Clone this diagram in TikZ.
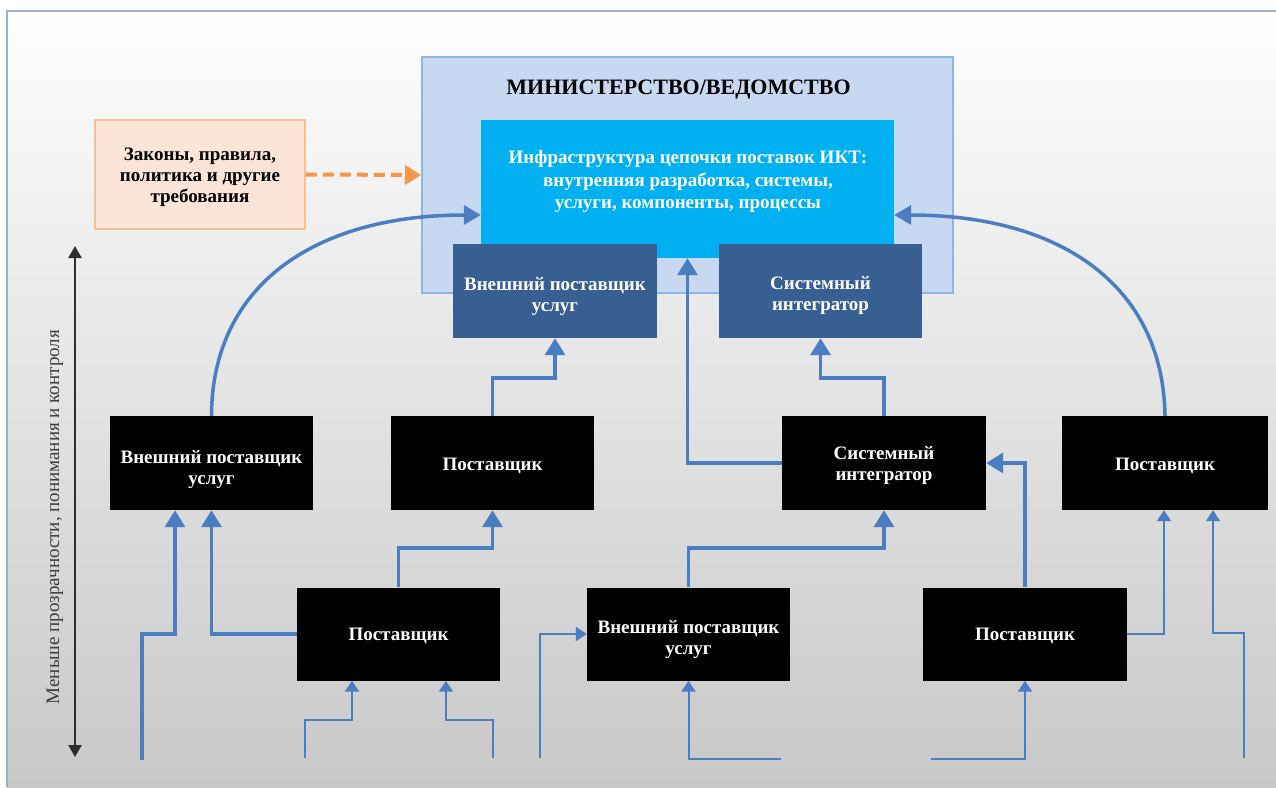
\documentclass[tikz,border=0pt]{standalone}
\usepackage{fontspec}
\setmainfont{Liberation Serif}
\usetikzlibrary{arrows.meta,calc}

\definecolor{framecol}{RGB}{154,176,204}
\definecolor{bgtop}{RGB}{254,254,254}
\definecolor{bgbot}{RGB}{200,200,200}
\definecolor{ministryfill}{RGB}{198,217,240}
\definecolor{ministrydraw}{RGB}{142,180,227}
\definecolor{lawfill}{RGB}{252,228,214}
\definecolor{lawdraw}{RGB}{249,190,143}
\definecolor{lawarrow}{RGB}{247,150,70}
\definecolor{ictfill}{RGB}{0,176,240}
\definecolor{darkbox}{RGB}{55,95,145}
\definecolor{flowblue}{RGB}{74,126,193}
\definecolor{axiscol}{RGB}{45,45,45}
\definecolor{axistext}{RGB}{60,60,60}

\newcommand\dgfont{\fontsize{19}{21}\selectfont\bfseries}

\begin{document}
\begin{tikzpicture}[x=1pt,y=-1pt,
  boxlabel/.style={inner sep=0pt, align=center, font=\dgfont, text=white},
  blackbox/.style={fill=black, inner sep=0pt, minimum width=203pt, minimum height=94pt},
  bluebox/.style={fill=darkbox, inner sep=0pt, minimum width=204pt, minimum height=94pt},
  flow/.style={draw=flowblue, line width=3.5pt, line join=miter,
    -{Triangle[length=17pt,width=20pt]}},
  thinflow/.style={draw=flowblue, line width=2pt, line join=miter,
    -{Triangle[length=11pt,width=14pt]}},
  curveflow/.style={draw=flowblue, line width=3.5pt,
    -{Triangle[length=17pt,width=19pt]}}
]
\useasboundingbox (0,0) rectangle (1276,787);

% page background and frame
\fill[white] (0,0) rectangle (1276,787);
\shade[top color=bgtop, bottom color=bgbot] (7,11) rectangle (1276,787);
\draw[framecol, line width=2pt] (7,787) -- (7,11) -- (1276,11);

% ministry and its internal infrastructure
\node[draw=ministrydraw, line width=2pt, fill=ministryfill, minimum width=531pt, minimum height=236pt, inner sep=0pt]
  (ministry) at (687.5,175) {};
\node[font=\fontsize{22}{24}\selectfont\bfseries, inner sep=0pt] (title) at (678.5,90) {МИНИСТЕРСТВО/ВЕДОМСТВО};
\node[fill=ictfill, minimum width=413pt, minimum height=138pt, inner sep=0pt] (ict) at (687.5,189) {};
\node[boxlabel, font=\fontsize{19}{22.5}\selectfont\bfseries] (ictlabel) at (688,181.5)
  {Инфраструктура цепочки поставок ИКТ:\\внутренняя разработка, системы,\\услуги, компоненты, процессы};

\node[bluebox, label={[boxlabel, name=esptext, yshift=-5.5pt]center:{Внешний поставщик\\услуг}}] (esp) at (555,291) {};
\node[bluebox, minimum width=203pt, label={[boxlabel, name=sitext, yshift=-4.5pt]center:{Системный\\интегратор}}] (si) at (820.5,291) {};

% laws and regulations
\node[draw=lawdraw, line width=1.5pt, fill=lawfill, minimum width=210pt, minimum height=109pt, inner sep=0pt,
  label={[boxlabel, name=lawtext, text=black, font=\fontsize{19}{21}\selectfont\bfseries, yshift=-3pt]center:{Законы, правила,\\политика и другие\\требования}}]
  (law) at (200,174.5) {};
\draw[lawarrow, line width=4pt, dash pattern=on 11pt off 6pt,
  -{Triangle[length=16pt,width=19pt]}] (law.east) -- (ministry.west);

% middle tier
\node[blackbox, label={[boxlabel, name=Atext, yshift=-6.5pt]center:{Внешний поставщик\\услуг}}] (A) at (211.5,463) {};
\node[blackbox, label={[boxlabel, name=Btext, yshift=-3pt]center:Поставщик}] (B) at (492.5,463) {};
\node[blackbox, minimum width=204pt, label={[boxlabel, name=Ctext, yshift=-2pt]center:{Системный\\интегратор}}] (C) at (884,463) {};
\node[blackbox, minimum width=206pt, label={[boxlabel, name=Dtext, yshift=-3pt]center:Поставщик}] (D) at (1165,463) {};

% lower tier
\node[blackbox, minimum height=93pt, label={[boxlabel, name=Etext, yshift=-2pt]center:Поставщик}] (E) at (398.5,634) {};
\node[blackbox, minimum height=93pt, label={[boxlabel, name=Ftext, yshift=-5.5pt]center:{Внешний поставщик\\услуг}}] (F) at (688.5,634) {};
\node[blackbox, minimum height=93pt, minimum width=204pt, label={[boxlabel, name=Gtext, yshift=-1.5pt]center:Поставщик}] (G) at (1025,634) {};

% loose ends of incoming supply lines
\coordinate (in1) at (142,760);
\coordinate (in2) at (305,758);
\coordinate (in3) at (493,758);
\coordinate (in4) at (540,758);
\coordinate (in5) at (781,759);
\coordinate (in6) at (931,759);
\coordinate (in7) at (1244,758);

% flows into the ministry
\draw[curveflow] (A.north) .. controls (212,285) and (315,215) .. (ict.west |- 0,215);
\draw[curveflow] (D.north) .. controls (1163,285) and (1060,215) .. (ict.east |- 0,215);
\draw[flow] (C.west) -| (ict.south);
\draw[flow] (B.north) -- (B.north |- 0,378) -| (esp.south);
\draw[flow] (C.north) -- (C.north |- 0,378) -| (si.south);

% flows into the middle tier
\draw[flow] (E.north) -- (E.north |- 0,548) -| (B.south);
\draw[flow] (E.west) -| (A.south);
\draw[flow] (in1) -- (in1 |- 0,634) -| (A.south -| 175,0);
\draw[flow] (F.north) -- (F.north |- 0,548) -| (C.south);
\draw[flow] (G.north) |- (C.east);
\draw[thinflow] (G.east) -| (D.south -| 1164,0);
\draw[thinflow] (in7) -- (in7 |- 0,633) -| (D.south -| 1213,0);

% flows into the lower tier
\draw[thinflow] (in2) -- (in2 |- 0,720) -| (E.south -| 352,0);
\draw[thinflow] (in3) -- (in3 |- 0,720) -| (E.south -| 446,0);
\draw[thinflow] (in4) |- (F.west);
\draw[thinflow] (in5) -| (F.south);
\draw[thinflow] (in6) -| (G.south);

% visibility axis
\coordinate (axtop) at (75,246);
\coordinate (axbot) at (75,757);
\draw[axiscol, line width=2.5pt, {Triangle[length=12pt,width=13pt]}-{Triangle[length=12pt,width=13pt]}]
  (axtop) -- (axbot);
\node[rotate=90, text=axistext, font=\fontsize{19}{21}\selectfont, inner sep=0pt] (axlabel) at (55,517)
  {Меньше прозрачности, понимания и контроля};
\end{tikzpicture}
\end{document}
